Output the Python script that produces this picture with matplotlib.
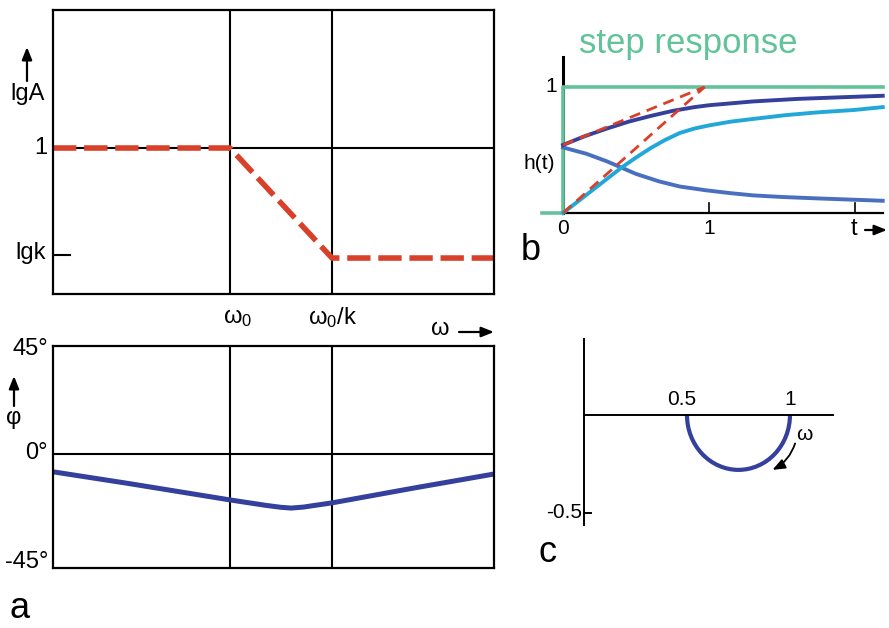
import numpy as np
import matplotlib
matplotlib.use("Agg")
import matplotlib.pyplot as plt
from matplotlib.patches import Arc


# ==================================
# DATA
# ==================================

# Bode plot (a), x is lg(omega) with omega0 at 0
BREAKS_LGW = [0.0, 1.0]
BREAK_LABELS = [r"$\omega_0$", r"$\omega_0$/k"]

AMP_LGW = [-1.735, 0.0, 1.0, 2.588]
AMP_LGA = [0.0, 0.0, -1.0, -1.0]
LGK = -1.0

PHASE_LGW = [-1.735, -1.0, 0.0, 0.35, 0.5, 0.6, 0.72, 0.85, 1.0, 1.8, 2.588]
PHASE_DEG = [-6.0, -10.7, -17.4, -19.6, -20.4, -20.7, -20.3, -19.5, -18.6, -12.6, -6.9]

# step response (b)
T_NAVY = [0, 0.15, 0.3, 0.45, 0.6, 0.75, 0.9, 1.0, 1.1, 1.3, 1.6, 1.9, 2.19]
H_NAVY = [0.54, 0.61, 0.67, 0.725, 0.77, 0.81, 0.84, 0.855, 0.865, 0.885, 0.905, 0.918, 0.93]

T_CYAN = [0, 0.1, 0.2, 0.3, 0.4, 0.5, 0.6, 0.7, 0.8, 0.9, 1.0, 1.15, 1.3, 1.53, 1.76, 1.99, 2.19]
H_CYAN = [0.0, 0.09, 0.18, 0.27, 0.36, 0.44, 0.515, 0.58, 0.635, 0.67, 0.695, 0.725, 0.746,
          0.777, 0.80, 0.817, 0.84]

T_BLUE = [0, 0.16, 0.3, 0.39, 0.5, 0.66, 0.8, 0.98, 1.15, 1.3, 1.5, 1.76, 2.0, 2.19]
H_BLUE = [0.52, 0.47, 0.41, 0.365, 0.31, 0.25, 0.21, 0.18, 0.157, 0.14, 0.127, 0.115, 0.105, 0.097]

T_TANGENT_UP = [0, 0.97]
H_TANGENT_UP = [0.54, 1.0]
T_TANGENT_LO = [0, 0.97]
H_TANGENT_LO = [0.0, 1.0]

T_STEP = [-0.144, 0, 0, 2.19]
H_STEP = [0, 0, 1, 1]
T_TICKS = [1, 2]

# Nyquist locus (c)
NYQ_START = 0.5
NYQ_END = 1.0
NYQ_DEPTH = 0.28
NYQ_TICK = -0.5

RED = "#d8402a"
NAVY = "#353f9c"
BLUE = "#4a6fc0"
CYAN = "#22a8d8"
GREEN = "#62c39a"

W, H = 889, 628

plt.rcParams["font.family"] = ["Liberation Sans", "DejaVu Sans"]
plt.rcParams["mathtext.default"] = "regular"


def box(x0, y0, x1, y1):
    # pixel box (top-left origin) -> figure fraction rect
    return [x0 / W, 1 - y1 / H, (x1 - x0) / W, (y1 - y0) / H]


def ftext(x, y, s, **kw):
    fig.text(x / W, 1 - y / H, s, **kw)


ARROW = "-|>,head_length=0.75,head_width=0.3"


def farrow(x0, y0, x1, y1):
    fig.add_artist(plt.Annotation(
        "", xy=(x1, H - y1), xytext=(x0, H - y0),
        xycoords="figure pixels", textcoords="figure pixels",
        arrowprops=dict(arrowstyle=ARROW, color="black", lw=1.6,
                        shrinkA=0, shrinkB=0)))


fig = plt.figure(figsize=(W / 100, H / 100), dpi=100)


# ==================================
# (a) AMPLITUDE
# ==================================

ax_amp = fig.add_axes(box(53, 10, 494, 294))
ax_amp.set_xlim(-1.735, 2.588)
ax_amp.set_ylim(-1.327, 1.2545)
for b in BREAKS_LGW:
    ax_amp.axvline(b, color="black", lw=1.5)
ax_amp.axhline(0, color="black", lw=1.5)
ax_amp.plot(AMP_LGW, AMP_LGA, color=RED, lw=4, dashes=(4.2, 1.4))
ax_amp.plot([-1.735, -1.57], [LGK + 0.03, LGK + 0.03], color="black", lw=1.5)
ax_amp.set_xticks([])
ax_amp.set_yticks([])
for s in ax_amp.spines.values():
    s.set_linewidth(1.6)

ftext(47, 148, "1", ha="right", va="center", fontsize=17)
ftext(46, 253, "lgk", ha="right", va="center", fontsize=17)
ftext(28, 94, "lgA", ha="center", va="center", fontsize=17)
farrow(27, 81, 27, 47)
for b, lab, dx in zip(BREAKS_LGW, BREAK_LABELS, [8, 1]):
    px = 230 + b * 102 + dx
    ftext(px, 318, lab, ha="center", va="center", fontsize=17)
ftext(440, 329, r"$\omega$", ha="center", va="center", fontsize=17)
farrow(459, 332, 494, 332)


# ==================================
# (a) PHASE
# ==================================

ax_ph = fig.add_axes(box(53, 346, 494, 568))
ax_ph.set_xlim(-1.735, 2.588)
ax_ph.set_ylim(-45, 45)
for b in BREAKS_LGW:
    ax_ph.axvline(b, color="black", lw=1.5)
ax_ph.axhline(1.2, color="black", lw=1.5)
ax_ph.plot(PHASE_LGW, PHASE_DEG, color=NAVY, lw=3.6, solid_joinstyle="round")
ax_ph.set_xticks([])
ax_ph.set_yticks([])
for s in ax_ph.spines.values():
    s.set_linewidth(1.6)

ftext(48, 349, "45°", ha="right", va="center", fontsize=17)
ftext(48, 453, "0°", ha="right", va="center", fontsize=17)
ftext(48, 562, "-45°", ha="right", va="center", fontsize=17)
farrow(14, 406, 14, 376)
ftext(14, 418, "φ", ha="center", va="center", fontsize=17)
ftext(20, 608, "a", ha="center", va="center", fontsize=26)


# ==================================
# (b) STEP RESPONSE
# ==================================

ax_st = fig.add_axes(box(520, 30, 889, 260))
ax_st.set_xlim(-0.295, 2.233)
ax_st.set_ylim(-0.373, 1.452)
ax_st.axis("off")
ax_st.plot([0, 0], [0, 1.238], color="black", lw=2.2)
ax_st.plot([0, 2.19], [0, 0], color="black", lw=1.6)
ax_st.plot(T_STEP, H_STEP, color=GREEN, lw=2.6)
for t in T_TICKS:
    ax_st.plot([t, t], [0, 0.08], color="black", lw=1.2)
ax_st.plot(T_BLUE, H_BLUE, color=BLUE, lw=2.8)
ax_st.plot(T_CYAN, H_CYAN, color=CYAN, lw=2.8)
ax_st.plot(T_NAVY, H_NAVY, color=NAVY, lw=2.8)
ax_st.plot(T_TANGENT_UP, H_TANGENT_UP, color=RED, lw=2.0, dashes=(4, 2.5))
ax_st.plot(T_TANGENT_LO, H_TANGENT_LO, color=RED, lw=2.0, dashes=(4, 2.5))

ftext(688, 44, "step response", ha="center", va="center", fontsize=25,
      color=GREEN)
ftext(557, 86, "1", ha="right", va="center", fontsize=15)
ftext(539, 164, "h(t)", ha="center", va="center", fontsize=15)
ftext(563, 229, "0", ha="center", va="center", fontsize=15)
ftext(709, 229, "1", ha="center", va="center", fontsize=15)
ftext(854, 229, "t", ha="center", va="center", fontsize=17)
farrow(865, 230, 887, 230)
ftext(531, 250, "b", ha="center", va="center", fontsize=26)


# ==================================
# (c) NYQUIST
# ==================================

ax_ny = fig.add_axes(box(540, 330, 860, 540))
ax_ny.set_xlim(-0.2136, 1.340)
ax_ny.set_ylim(-0.638, 0.434)
ax_ny.axis("off")
ax_ny.plot([0, 0], [-0.56, 0.39], color="black", lw=1.4)
ax_ny.plot([0, 1.21], [0, 0], color="black", lw=1.4)
ax_ny.plot([0, 0.035], [NYQ_TICK, NYQ_TICK], color="black", lw=1.4)
ax_ny.add_patch(Arc(((NYQ_START + NYQ_END) / 2, 0), NYQ_END - NYQ_START,
                    2 * NYQ_DEPTH, theta1=180, theta2=360,
                    color=NAVY, lw=3))
ax_ny.annotate("", xy=(0.915, -0.28), xytext=(1.025, -0.145),
               arrowprops=dict(arrowstyle=ARROW, color="black", lw=1.3,
                               connectionstyle="arc3,rad=-0.2",
                               shrinkA=0, shrinkB=0))
ax_ny.text(NYQ_START - 0.025, 0.03, "0.5", ha="center", va="bottom", fontsize=15)
ax_ny.text(NYQ_END, 0.03, "1", ha="center", va="bottom", fontsize=15)
ax_ny.text(-0.01, NYQ_TICK, "-0.5", ha="right", va="center", fontsize=15)
ax_ny.text(1.07, -0.10, r"$\omega$", ha="center", va="center", fontsize=15)
ftext(548, 553, "c", ha="center", va="center", fontsize=26)

fig.savefig("out.png", dpi=100)
